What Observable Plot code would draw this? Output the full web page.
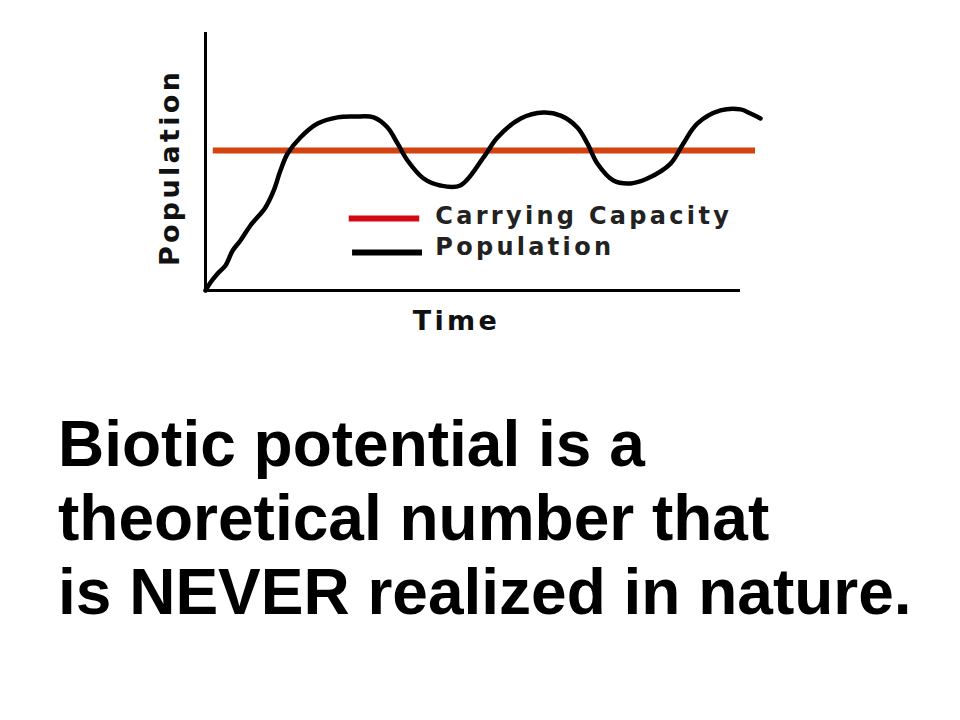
<!DOCTYPE html>
<html>
<head>
<meta charset="utf-8">
<script src="https://cdn.jsdelivr.net/npm/d3@7"></script>
<script src="https://cdn.jsdelivr.net/npm/@observablehq/plot@0.6"></script>
<style>
  html, body { margin: 0; padding: 0; background: #fff; }
  #wrap { position: relative; width: 960px; height: 720px; overflow: hidden; }
  #chart svg text { letter-spacing: 3.3px; }
  #caption {
    position: absolute; left: 58px; top: 407px;
    font-family: "Liberation Sans", Arial, sans-serif; font-weight: bold;
    font-size: 64px; line-height: 74px; color: #000; white-space: nowrap;
  }
</style>
</head>
<body>
<div id="wrap">
  <div id="chart"></div>
  <div id="caption"></div>
</div>
<script>
// ---- Data (time in arbitrary units 0–100, population in arbitrary units 0–100) ----
const time = [0, 0.9, 2.2, 3.6, 4.9, 6.3, 8.1, 10.8, 12.3, 13.5, 14.8, 17.1, 20.2, 23.8, 27.0, 30.3,
  32.8, 34.6, 36.4, 39.3, 42.3, 45.9, 50.1, 52.6, 56.8, 60.9, 64.0, 67.0, 68.8, 70.6, 73.5,
  76.6, 79.6, 83.8, 86.1, 88.6, 92.8, 96.4, 98.2, 100];
const population = [0, 3.1, 6.6, 9.7, 15.5, 19.4, 25.2, 32.2, 38.8, 46.5, 53.1, 59.3, 64.7, 67.1, 67.4, 67.1,
  63.2, 57.0, 50.4, 43.4, 40.7, 40.7, 51.6, 59.3, 66.7, 69.0, 67.8, 63.2, 57.0, 49.2, 42.6,
  41.5, 43.4, 49.2, 57.0, 64.7, 69.8, 70.2, 68.6, 66.7];
const carryingCapacity = [54.3];
const carryingSpan = [1.4, 99.1];           // time range of the carrying capacity line
const legendLabels = ["Carrying Capacity", "Population"];
const legendColors = ["#d40a12", "#000000"];
const xAxisLabel = "Time";
const yAxisLabel = "Population";
const captionLines = ["Biotic potential is a", "theoretical number that", "is NEVER realized in nature."];

// ---- Build tables ----
const series = time.map((t, i) => ({t, p: population[i]}));
const legend = legendLabels.map((label, i) => ({
  label, color: legendColors[i],
  x1: i === 0 ? 25.9 : 26.5, x2: i === 0 ? 38.6 : 39.1,
  y: i === 0 ? 27.9 : 14.7, ty: i === 0 ? 28.6 : 16.8
}));

const font = "'DejaVu Sans', Verdana, sans-serif";

const chart = Plot.plot({
  width: 960,
  height: 345,
  marginTop: 32,
  marginBottom: 55,
  marginLeft: 205,
  marginRight: 200,
  style: {fontFamily: font, background: "#fff", overflow: "visible"},
  x: {domain: [0, 100], axis: null},
  y: {domain: [0, 100], axis: null},
  marks: [
    // axes
    Plot.ruleX([0], {y1: 0, y2: 100, stroke: "#000", strokeWidth: 3}),
    Plot.ruleY([0], {x1: 0, x2: 96.4, stroke: "#000", strokeWidth: 3}),
    // carrying capacity
    Plot.ruleY(carryingCapacity, {x1: carryingSpan[0], x2: carryingSpan[1], stroke: "#d2430f", strokeWidth: 6}),
    // population
    Plot.line(series, {x: "t", y: "p", stroke: "#000", strokeWidth: 4.5, curve: "catmull-rom",
      strokeLinejoin: "round", strokeLinecap: "round"}),
    // legend
    Plot.ruleY(legend, {y: "y", x1: "x1", x2: "x2", stroke: "color", strokeWidth: 6}),
    Plot.text(legend, {x: 41.4, y: "ty", text: "label", textAnchor: "start", lineAnchor: "middle",
      fontSize: 24, fontWeight: "bold", fill: "#222"}),
    // axis labels
    Plot.text([xAxisLabel], {x: 45.2, y: -12, text: d => d, fontSize: 27, fontWeight: "bold",
      fill: "#111", lineAnchor: "middle"}),
    Plot.text([yAxisLabel], {x: -6.3, y: 47.7, text: d => d, rotate: -90, fontSize: 27, fontWeight: "bold",
      fill: "#111", lineAnchor: "middle"})
  ]
});
document.getElementById("chart").appendChild(chart);

const cap = document.getElementById("caption");
captionLines.forEach(line => {
  const d = document.createElement("div");
  d.textContent = line;
  cap.appendChild(d);
});
</script>
</body>
</html>
